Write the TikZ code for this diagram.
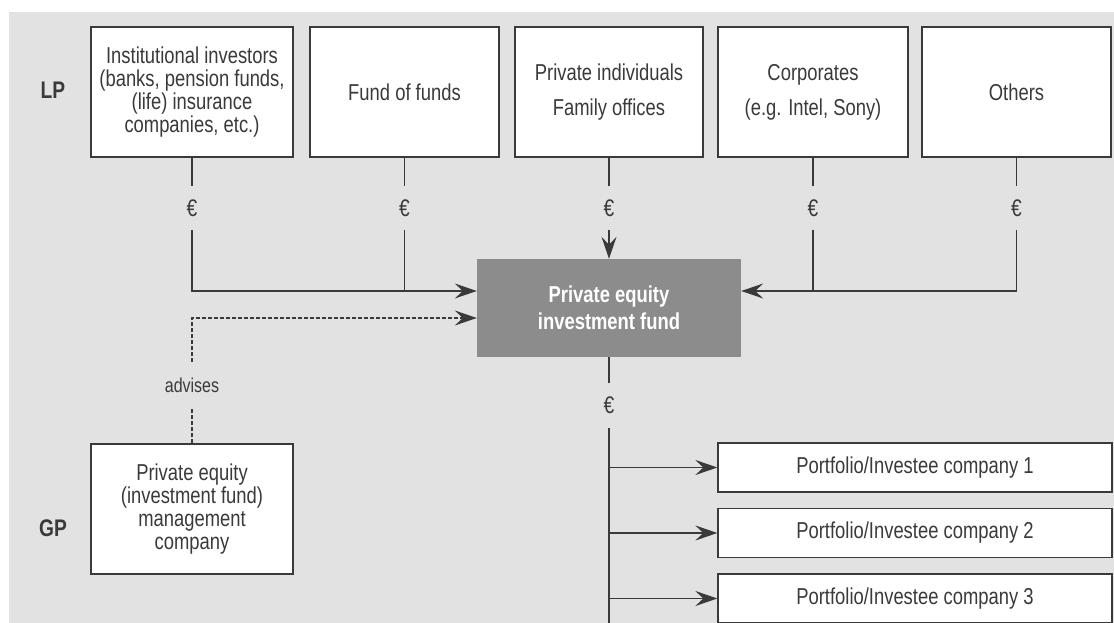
\documentclass[tikz,border=0pt]{standalone}
\usepackage{fontspec}
\setmainfont{Liberation Sans}[FakeStretch=0.80]
\usetikzlibrary{arrows.meta,calc}
\definecolor{bg}{HTML}{E2E2E2}
\definecolor{ink}{HTML}{3A3A3A}
\definecolor{fundgray}{HTML}{8C8C8C}
\begin{document}
\begin{tikzpicture}[x=1pt,y=-1pt,
  box/.style={draw=ink, line width=1.3pt, fill=white, inner sep=0pt, align=center, text=ink,
    font=\fontsize{23}{23}\selectfont},
  pbox/.style={box, minimum width=394pt, minimum height=49pt},
  eur/.style={inner sep=0pt, minimum height=43pt, text=ink, font=\fontsize{24}{24}\selectfont},
  lbl/.style={text=ink, font=\bfseries\fontsize{24}{24}\selectfont},
  conn/.style={draw=ink, line width=1.3pt},
  arr/.style={conn, -{Stealth[length=22pt,width=15pt,inset=8pt]}},
  darr/.style={arr, dash pattern=on 4pt off 2pt}
]
\useasboundingbox (0,0) rectangle (1114,623);
\clip (0,0) rectangle (1114,623);
\fill[white] (0,0) rectangle (1114,623);
\fill[bg] (9,12) rectangle (1114,623);

% labels
\node[lbl] (lp) at (53,90) {LP};
\node[lbl] (gpl) at (53,528) {GP};

% LP boxes
\node[box, minimum width=202pt, minimum height=130pt] (b1) at (192,92)
  {Institutional investors\\(banks, pension funds,\\(life) insurance\\companies, etc.)};
\node[box, minimum width=189pt, minimum height=130pt] (b2) at (404.5,92) {Fund of funds};
\node[box, minimum width=188pt, minimum height=130pt] (b3) at (609,92)
  {Private individuals\\[12pt]Family offices};
\node[box, minimum width=190pt, minimum height=130pt] (b4) at (813,92)
  {Corporates\\[12pt](e.g. Intel, Sony)};
\node[box, minimum width=189pt, minimum height=130pt] (b5) at (1016.5,92) {Others};

% euros
\node[eur] (e1) at (192,208) {€};
\node[eur] (e2) at (404.5,208) {€};
\node[eur] (e3) at (609,208) {€};
\node[eur] (e4) at (813,208) {€};
\node[eur] (e5) at (1016.5,208) {€};

% fund
\node[fill=fundgray, inner sep=0pt, minimum width=264pt, minimum height=98pt, align=center,
  text=white, font=\bfseries\fontsize{23}{27}\selectfont] (fund) at (609,308)
  {Private equity\\investment fund};
\coordinate (inL) at ($(fund.west)+(0,-17)$);
\coordinate (inR) at ($(fund.east)+(0,-17)$);
\coordinate (inD) at ($(fund.west)+(0,10)$);

% GP box
\node[box, minimum width=202pt, minimum height=130pt] (gp) at (192,509)
  {Private equity\\(investment fund)\\management\\company};
\node[inner sep=0pt, minimum height=45pt, text=ink, font=\fontsize{20}{20}\selectfont] (adv) at (192,385) {advises};

% trunk euro
\node[eur, minimum height=45pt] (e6) at (609,405.5) {€};
\coordinate (bot) at (609,630);

% portfolio boxes
\node[pbox] (p1) at (915,467.5) {Portfolio/Investee company 1};
\node[pbox] (p2) at (915,533) {Portfolio/Investee company 2};
\node[pbox] (p3) at (915,598.5) {Portfolio/Investee company 3};

% connectors top
\foreach \i in {1,...,5} {\draw[conn] (b\i.south) -- (e\i.north);}
\draw[arr] (e1.south) |- (inL);
\draw[conn] (e2.south) -- (e2.south |- inL);
\draw[arr] (e3.south) -- (fund.north);
\draw[conn] (e4.south) -- (e4.south |- inR);
\draw[arr] (e5.south) |- (inR);

% advises
\draw[conn, dash pattern=on 4pt off 2pt] (gp.north) -- (adv.south);
\draw[darr] (adv.north) |- (inD);

% trunk
\draw[conn] (fund.south) -- (e6.north);
\draw[conn] (e6.south) -- (bot);
\draw[arr] (p1.west -| e6.south) -- (p1.west);
\draw[arr] (p2.west -| e6.south) -- (p2.west);
\draw[arr] (p3.west -| e6.south) -- (p3.west);
\end{tikzpicture}
\end{document}
